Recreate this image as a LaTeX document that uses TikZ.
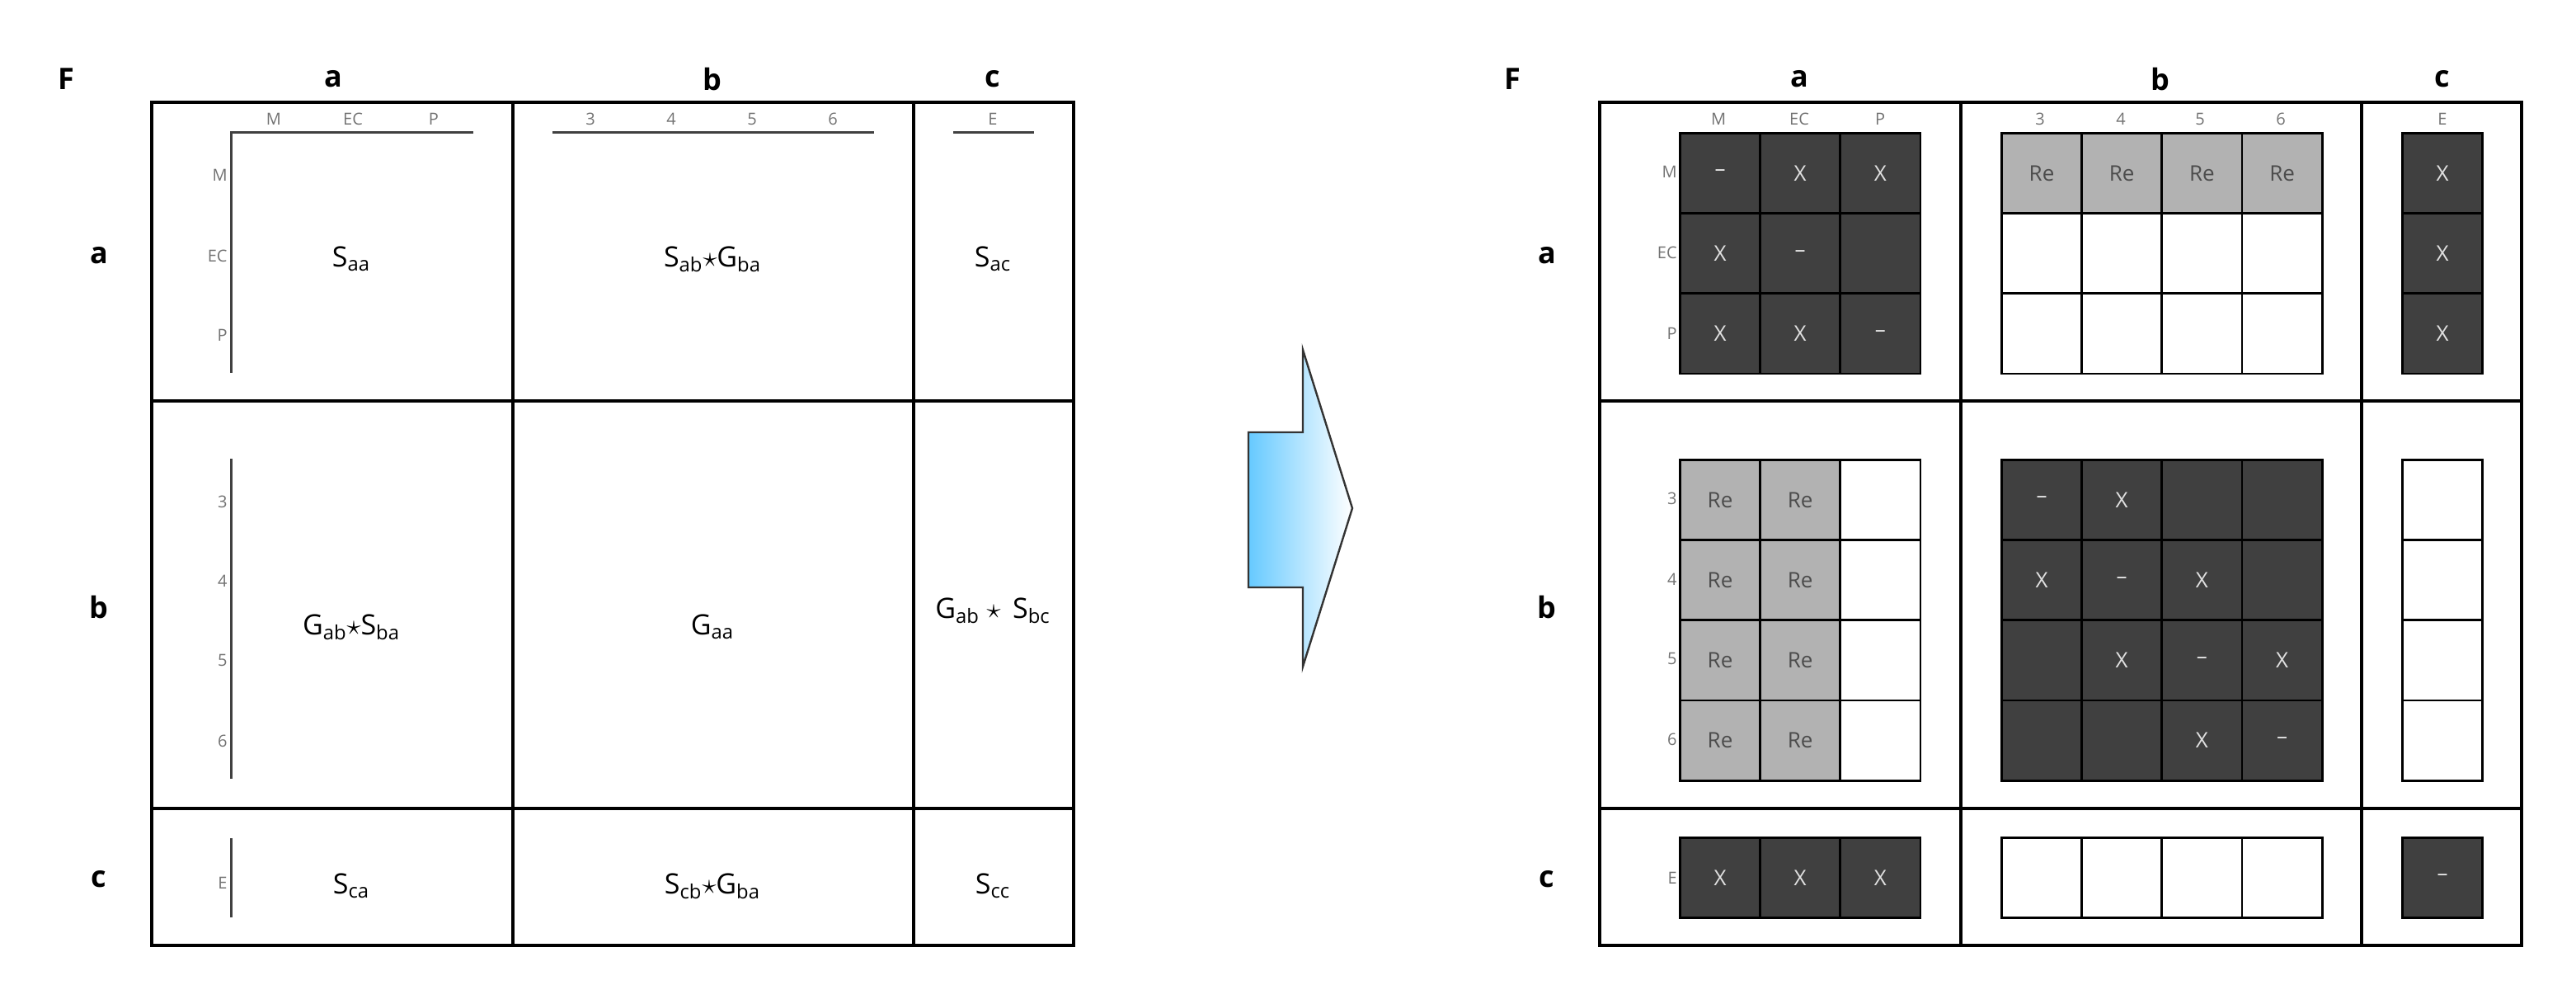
\documentclass[tikz,border=0pt]{standalone}
\usepackage{fontspec}
\setmainfont{Open Sans}
\begin{document}
\begin{tikzpicture}[x=1pt,y=-1pt,
  panel/.style={draw=black,line width=1.8pt},
  hdr/.style={font=\fontsize{18}{20}\selectfont\bfseries},
  ax/.style={font=\fontsize{10}{11}\selectfont,text=gray!90!black},
  axl/.style={line width=1.5pt,draw=black!75},
  big/.style={font=\fontsize{17}{19}\selectfont},
  cl/.style={draw=black,line width=1.4pt,minimum size=48.6pt,inner sep=0pt,anchor=north west,font=\fontsize{13}{14}\selectfont},
  dk/.style={cl,fill=black!75,text=white!88!black},
  gy/.style={cl,fill=black!30,text=black!70},
  wt/.style={cl,fill=white}]
\useasboundingbox (0,0) rectangle (1562,608);
% ---------- left panel ----------
\draw[panel] (92,62) rectangle (651,573);
\draw[panel] (311,62) -- (311,573) (554,62) -- (554,573) (92,243) -- (651,243) (92,490) -- (651,490);
\node[hdr] (F1) at (40,48) {F};
\node[hdr] (ca1) at (202,48) {a};
\node[hdr] (cb1) at (432,48) {b};
\node[hdr] (cc1) at (602,48) {c};
\node[hdr] (ra1) at (60,155) {a};
\node[hdr] (rb1) at (60,368) {b};
\node[hdr] (rc1) at (60,533) {c};
\draw[axl] (287,80) -- (140,80) -- (140,226);
\draw[axl] (335,80) -- (530,80);
\draw[axl] (578,80) -- (627,80);
\draw[axl] (140,278) -- (140,472);
\draw[axl] (140,508) -- (140,556);
\foreach \t/\x [count=\i] in {M/166,EC/214,P/263}{\node[ax] (ta\i) at (\x,72) {\t};}
\foreach \t/\x [count=\i] in {3/358,4/407,5/456,6/505}{\node[ax] (tb\i) at (\x,72) {\t};}
\node[ax] (tc1) at (602,72) {E};
\foreach \t/\y [count=\i] in {M/106,EC/155,P/203}{\node[ax,anchor=east,inner sep=1pt] (la\i) at (139,\y) {\t};}
\foreach \t/\y [count=\i] in {3/304,4/352,5/400,6/449}{\node[ax,anchor=east,inner sep=1pt] (lb\i) at (139,\y) {\t};}
\node[ax,anchor=east,inner sep=1pt] (lc1) at (139,535) {E};
\node[big] (saa) at (213,157) {S\textsubscript{aa}};
\node[big] (sab) at (432,157) {S\textsubscript{ab}$\star$G\textsubscript{ba}};
\node[big] (sac) at (602,157) {S\textsubscript{ac}};
\node[big] (gab) at (213,380) {G\textsubscript{ab}$\star$S\textsubscript{ba}};
\node[big] (gaa) at (432,380) {G\textsubscript{aa}};
\node[big] (gbc) at (602,370) {G\textsubscript{ab} $\star$\, S\textsubscript{bc}};
\node[big] (sca) at (213,537) {S\textsubscript{ca}};
\node[big] (scb) at (432,537) {S\textsubscript{cb}$\star$G\textsubscript{ba}};
\node[big] (scc) at (602,537) {S\textsubscript{cc}};
% ---------- arrow ----------
\shade[left color=blue!35!cyan!60!white,right color=white,draw=black!80,line width=1.2pt]
  (757,262) -- (790,262) -- (790,212) -- (820,308) -- (790,404) -- (790,356) -- (757,356) -- cycle;
% ---------- right panel ----------
\draw[panel] (970,62) rectangle (1529,573);
\draw[panel] (1189,62) -- (1189,573) (1432,62) -- (1432,573) (970,243) -- (1529,243) (970,490) -- (1529,490);
\node[hdr] (F2) at (917,48) {F};
\node[hdr] (ca2) at (1091,48) {a};
\node[hdr] (cb2) at (1310,48) {b};
\node[hdr] (cc2) at (1481,48) {c};
\node[hdr] (ra2) at (938,155) {a};
\node[hdr] (rb2) at (938,368) {b};
\node[hdr] (rc2) at (938,533) {c};
\foreach \t/\x [count=\i] in {M/1042,EC/1091,P/1140}{\node[ax] (ua\i) at (\x,72) {\t};}
\foreach \t/\x [count=\i] in {3/1237,4/1286,5/1334,6/1383}{\node[ax] (ub\i) at (\x,72) {\t};}
\node[ax] (uc1) at (1481,72) {E};
\foreach \t/\y [count=\i] in {M/104,EC/153,P/202}{\node[ax,anchor=east,inner sep=1pt] (ma\i) at (1018,\y) {\t};}
\foreach \t/\y [count=\i] in {3/302,4/351,5/399,6/448}{\node[ax,anchor=east,inner sep=1pt] (mb\i) at (1018,\y) {\t};}
\node[ax,anchor=east,inner sep=1pt] (mc1) at (1018,532) {E};
% aa
\foreach \r/\row in {0/{--,X,X},1/{X,--,},2/{X,X,--}}{
  \foreach \t [count=\c from 0] in \row {\node[dk] (aa\r\c) at (1018+48.6*\c,80+48.6*\r) {\t};}}
% ab
\foreach \c in {0,...,3}{
  \node[gy] (ab0\c) at (1213+48.6*\c,80) {Re};
  \node[wt] (ab1\c) at (1213+48.6*\c,128.6) {};
  \node[wt] (ab2\c) at (1213+48.6*\c,177.2) {};}
% ac
\foreach \r in {0,1,2}{\node[dk] (ac\r) at (1456,80+48.6*\r) {X};}
% ba, bc
\foreach \r in {0,...,3}{
  \node[gy] (ba\r0) at (1018,278+48.6*\r) {Re};
  \node[gy] (ba\r1) at (1066.6,278+48.6*\r) {Re};
  \node[wt] (ba\r2) at (1115.2,278+48.6*\r) {};
  \node[wt] (bc\r) at (1456,278+48.6*\r) {};}
% bb
\foreach \r/\row in {0/{--,X,,},1/{X,--,X,},2/{,X,--,X},3/{,,X,--}}{
  \foreach \t [count=\c from 0] in \row {\node[dk] (bb\r\c) at (1213+48.6*\c,278+48.6*\r) {\t};}}
% row c
\foreach \c in {0,1,2}{\node[dk] (ca\c) at (1018+48.6*\c,507) {X};}
\foreach \c in {0,...,3}{\node[wt] (cb\c) at (1213+48.6*\c,507) {};}
\node[dk] (cc0) at (1456,507) {--};
\end{tikzpicture}
\end{document}
